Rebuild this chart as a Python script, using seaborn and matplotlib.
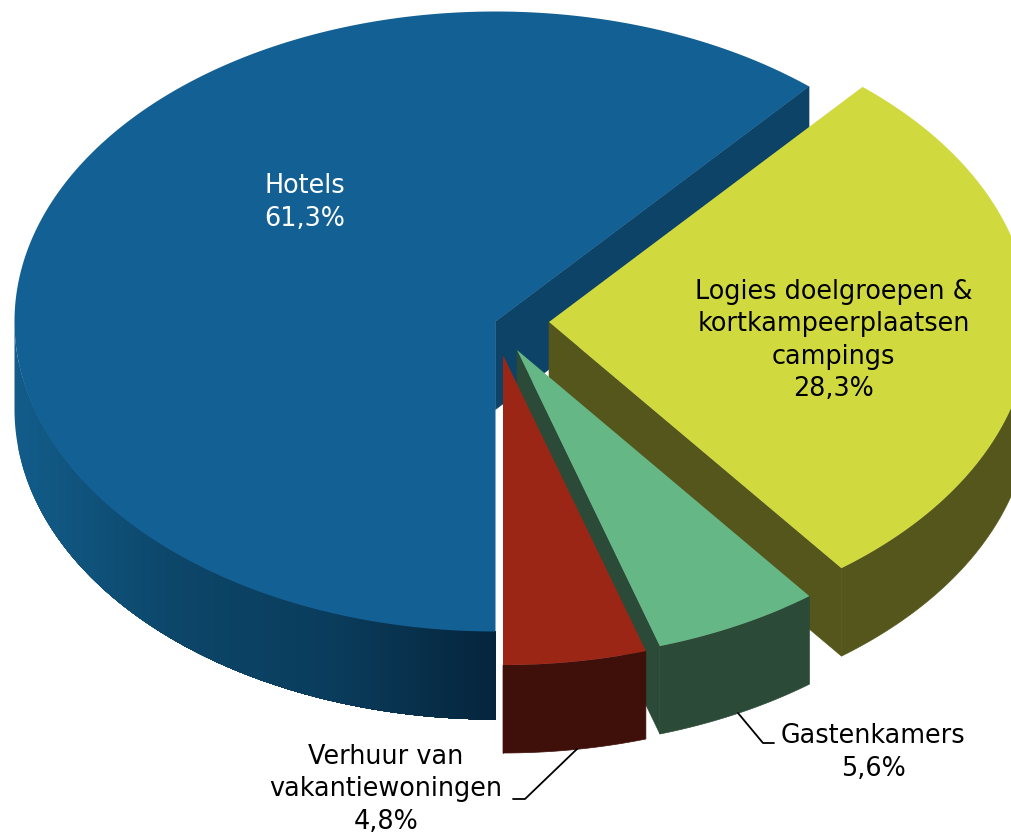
import numpy as np
import matplotlib
matplotlib.use('Agg')
import matplotlib.pyplot as plt
import seaborn as sns

# Data
labels = ['Hotels', 'Logies doelgroepen &\nkortkampeerplaatsen\ncampings',
          'Gastenkamers', 'Verhuur van\nvakantiewoningen']
shares = [61.3, 28.3, 5.6, 4.8]
share_texts = ['61,3%', '28,3%', '5,6%', '4,8%']

# Colours: top face, cut wall, outer wall
top_colors = ['#136094', '#D0DA3E', '#65B885', '#9C2616']
wall_colors = ['#0E4368', '#55561C', '#2B4B38', '#3F100A']
hotel_side = sns.blend_palette(['#125C8A', '#0C4669', '#0A3C5C', '#05253C'], 120)

# Pie geometry in pixels
RX, RY, DEPTH = 481, 310, 88
apexes = [(495.5, 321.5), (549, 322), (517, 350), (503, 355)]


def rim(cx, cy, a0, a1, n=120):
    t = np.radians(np.linspace(a0, a1, n))
    return cx + RX * np.cos(t), cy - RY * np.sin(t)


def draw_side(ax, x, y, color, lw=0):
    xs = np.concatenate([x, x[::-1]])
    ys = np.concatenate([y, y[::-1] + DEPTH])
    ax.fill(xs, ys, color=color, lw=lw)


def draw_wall(ax, apex, angle, color):
    x, y = rim(apex[0], apex[1], angle, angle, 2)
    xs = [apex[0], x[0], x[0], apex[0]]
    ys = [apex[1], y[0], y[0] + DEPTH, apex[1] + DEPTH]
    ax.fill(xs, ys, color=color, lw=0.4)


def draw_top(ax, apex, a0, a1, color):
    x, y = rim(apex[0], apex[1], a0, a1, 300)
    ax.fill(np.r_[apex[0], x], np.r_[apex[1], y], color=color, lw=0)


def main():
    sns.set_theme(style='white')
    plt.rcParams['font.family'] = ['DejaVu Sans']

    fig = plt.figure(figsize=(10.12, 8.35), dpi=100)
    ax = fig.add_axes([0, 0, 1, 1])
    ax.set_xlim(0, 1012)
    ax.set_ylim(835, 0)
    ax.axis('off')

    # slices run clockwise from straight down, so the angles keep falling past -360
    sweep = np.array(shares) / sum(shares) * 360
    ends = -90 - np.cumsum(sweep)
    starts = np.r_[-90, ends[:-1]]

    # Hotels: outer wall shaded by x, each strip runs on to the front so no seams show
    for i, frac in enumerate(np.linspace(0, 1, len(hotel_side), endpoint=False)):
        a0 = -np.degrees(np.arccos(-(1 - frac)))
        x, y = rim(*apexes[0], a0, -90)
        draw_side(ax, x, y, hotel_side[i])
    draw_wall(ax, apexes[0], ends[0], wall_colors[0])
    draw_top(ax, apexes[0], starts[0], ends[0], top_colors[0])

    # Remaining slices, back to front. Only the front of the rim can be seen.
    for i in [1, 2, 3]:
        x, y = rim(*apexes[i], min(starts[i], -360), ends[i])
        draw_wall(ax, apexes[i], ends[i], wall_colors[i])
        draw_side(ax, x, y, wall_colors[i], lw=0.5)
        draw_top(ax, apexes[i], starts[i], ends[i], top_colors[i])

    # Labels
    font = 18.4
    spacing = 1.33
    ax.text(305, 202.5, labels[0] + '\n' + share_texts[0], color='white', fontsize=font,
            ha='center', va='center', linespacing=spacing)
    ax.text(833.5, 340.5, labels[1] + '\n' + share_texts[1], color='black', fontsize=font,
            ha='center', va='center', linespacing=spacing)
    ax.text(873, 752.5, labels[2] + '\n' + share_texts[2], color='black', fontsize=font,
            ha='center', va='center', linespacing=spacing)
    ax.text(386, 789.5, labels[3] + '\n' + share_texts[3], color='black', fontsize=font,
            ha='center', va='center', linespacing=spacing)

    # Leader lines
    ax.plot([738, 763, 774], [713, 743, 743], color='black', lw=1.3)
    ax.plot([577, 525, 513], [749, 799, 799], color='black', lw=1.3)

    fig.savefig('out.png', dpi=100)
    plt.close(fig)


if __name__ == '__main__':
    main()
